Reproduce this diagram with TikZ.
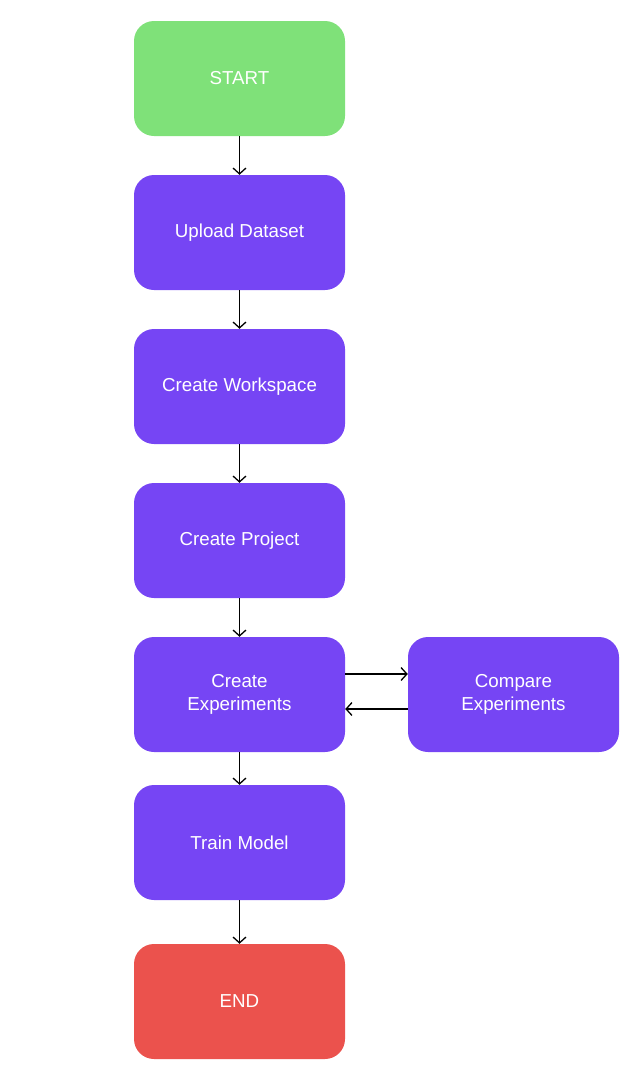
\documentclass[tikz,border=0pt]{standalone}
\usepackage{fontspec}
\setmainfont{Liberation Sans}
\usetikzlibrary{shapes.geometric, arrows.meta, positioning}
\definecolor{startgreen}{RGB}{127,225,121}
\definecolor{stepviolet}{RGB}{118,69,244}
\definecolor{endred}{RGB}{235,82,77}
\tikzstyle{block} = [
    rectangle,
    rounded corners=0.6cm,
    minimum width=6.33cm,
    minimum height=3.45cm,
    text=white,
    align=center,
    font=\fontsize{16}{19}\selectfont
]
\tikzstyle{startstop} = [block, fill=startgreen]
\tikzstyle{process} = [block, fill=stepviolet]
\tikzstyle{finish} = [block, fill=endred]
\tikzstyle{arrow} = [line width=1.1pt,->,>={Straight Barb[length=5pt,width=11pt]}]

\begin{document}
\begin{tikzpicture}[node distance=4.62cm]

\useasboundingbox (0,0) rectangle (19.08,-32.52);

\node (start) [startstop] at (7.185,-2.355) {START};

\node (upload) [process, below of=start] {Upload Dataset};

\node (workspace) [process, below of=upload] {Create Workspace};

\node (project) [process, below of=workspace] {Create Project};

\node (experiments) [process, below of=project] {Create\\Experiments};

\node (compare) [process, right of=experiments, node distance=8.22cm]
{Compare\\Experiments};

\node (train) [process, below of=experiments, yshift=0.18cm] {Train Model};

\node (stop) [finish, below of=train, yshift=-0.15cm] {END};

\draw [arrow] (start) -- (upload);
\draw [arrow] (upload) -- (workspace);
\draw [arrow] (workspace) -- (project);
\draw [arrow] (project) -- (experiments);
\draw [arrow] ([yshift=0.615cm]experiments.east) -- ([yshift=0.615cm]compare.west);
\draw [arrow] ([yshift=-0.435cm]compare.west) -- ([yshift=-0.435cm]experiments.east);
\draw [arrow] (experiments) -- (train);
\draw [arrow] (train) -- (stop);

\end{tikzpicture}
\end{document}
